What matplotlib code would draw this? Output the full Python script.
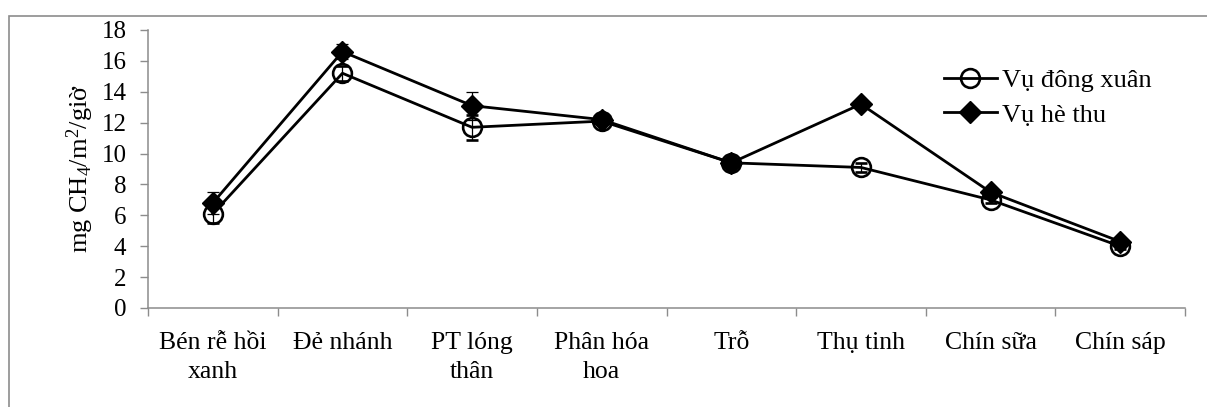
import matplotlib
matplotlib.use("Agg")
import matplotlib.pyplot as plt
import matplotlib.patches as mpatches
from matplotlib.lines import Line2D
import numpy as np

plt.rcParams["font.family"] = ["Liberation Serif", "DejaVu Serif"]
plt.rcParams["mathtext.fontset"] = "custom"
plt.rcParams["mathtext.rm"] = "Liberation Serif"
plt.rcParams["mathtext.it"] = "Liberation Serif:italic"

# ── Data ──────────────────────────────────────────────────────────────────────
STAGES = ["Bén rễ hồi\nxanh", "Đẻ nhánh", "PT lóng\nthân", "Phân hóa\nhoa",
          "Trỗ", "Thụ tinh", "Chín sữa", "Chín sáp"]
DONG_XUAN = [6.1, 15.2, 11.7, 12.1, 9.4, 9.1, 7.0, 4.0]
DONG_XUAN_ERR = [0.6, 0.5, 0.8, 0.2, 0.2, 0.3, 0.2, 0.2]
HE_THU = [6.8, 16.6, 13.1, 12.2, 9.4, 13.2, 7.5, 4.3]
HE_THU_ERR = [0.7, 0.5, 0.9, 0.2, 0.2, 0.2, 0.2, 0.2]
SERIES_LABELS = ["Vụ đông xuân", "Vụ hè thu"]
Y_TICKS = list(range(0, 19, 2))

GRAY = "#8c8c8c"
LW = 2.0

W, H = 1207, 407
fig = plt.figure(figsize=(W / 100, H / 100), dpi=100)
ax = fig.add_axes([148 / W, 1 - 308 / H, (1185 - 148) / W, (308 - 30) / H])

# outer frame around the chart area
frame = mpatches.Rectangle((8.5 / W, -0.05), 1.2, 1 - 15.5 / H + 0.05,
                           transform=fig.transFigure, fill=False,
                           edgecolor=GRAY, lw=1.2, zorder=0)
fig.patches.append(frame)

x = np.arange(len(STAGES))
ax.errorbar(x, DONG_XUAN, yerr=DONG_XUAN_ERR, color="black", lw=LW,
            marker="o", ms=13.5, mfc="none", mec="black", mew=1.9,
            ecolor="black", elinewidth=0.9, capsize=4.5, capthick=0.9,
            zorder=3)
ax.errorbar(x, HE_THU, yerr=HE_THU_ERR, color="black", lw=LW,
            marker="D", ms=11, mfc="black", mec="black",
            ecolor="black", elinewidth=0.9, capsize=4.5, capthick=0.9,
            zorder=4)

ax.set_xlim(-0.5, len(STAGES) - 0.5)
ax.set_ylim(0, 18)
ax.set_yticks(Y_TICKS)
ax.set_xticks(x)
ax.set_xticklabels(STAGES, fontsize=18.5, linespacing=1.45)
ax.set_xticks(np.arange(-0.5, len(STAGES)), minor=True)
ax.tick_params(axis="x", which="major", length=0, pad=17)
ax.tick_params(axis="x", which="minor", length=5.5, width=1, color=GRAY)
ax.tick_params(axis="y", length=5.5, width=1, color=GRAY, labelsize=18, pad=10)

for side in ["top", "right"]:
    ax.spines[side].set_visible(False)
for side in ["left", "bottom"]:
    ax.spines[side].set_color(GRAY)
    ax.spines[side].set_linewidth(1.1)

ax.set_ylabel("mg CH$_4$/m$^2$/giờ", fontsize=19, labelpad=4)

handles = [
    Line2D([], [], color="black", lw=LW, marker="o", ms=13.5, mfc="none",
           mec="black", mew=1.9),
    Line2D([], [], color="black", lw=LW, marker="D", ms=11, mfc="black",
           mec="black"),
]
fig.legend(handles, SERIES_LABELS, loc="upper left",
           bbox_to_anchor=(944 / W, 1 - 69 / H), frameon=False,
           fontsize=19, handlelength=2.0, handletextpad=0.2,
           labelspacing=0.4, borderpad=0, borderaxespad=0)

fig.savefig("out.png", dpi=100)
plt.close(fig)
